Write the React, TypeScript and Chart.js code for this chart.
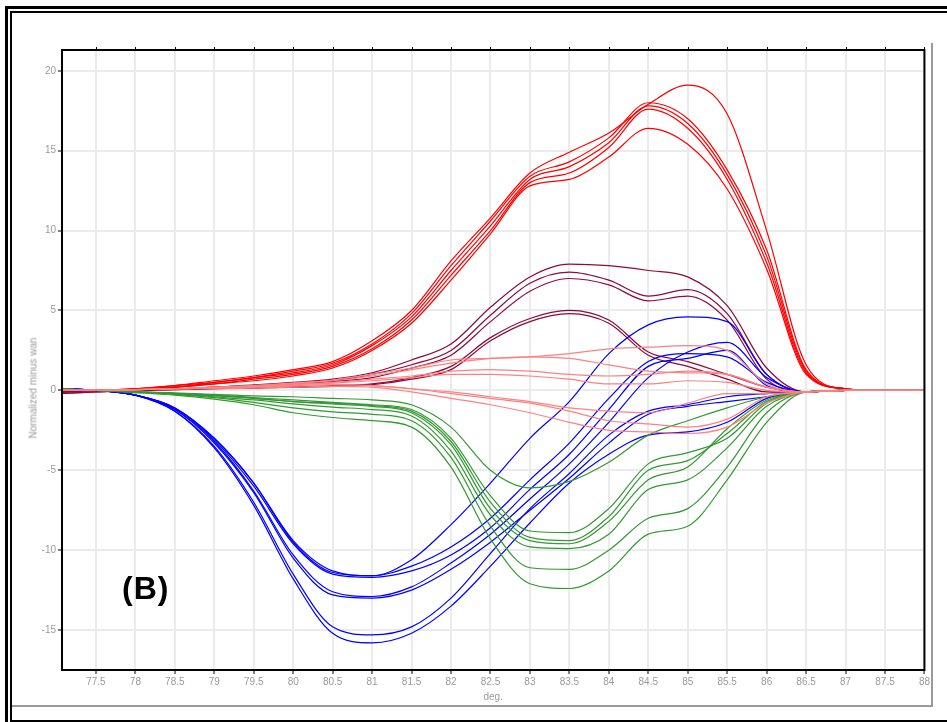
import React, { useEffect, useRef } from "react";
import { Chart, registerables } from "chart.js";

Chart.register(...registerables);

// temperature axis (deg.)
const temps = [77, 77.5, 78, 78.5, 79, 79.5, 80, 80.5, 81, 81.5, 82, 82.5, 83, 83.5, 84, 84.5, 85, 85.5, 86, 86.5, 87, 87.5, 88];

// bright red group
const red1 = [0, 0, 0.1, 0.3, 0.6, 0.9, 1.3, 1.8, 3.1, 5.0, 8.1, 10.8, 13.6, 14.9, 16.1, 17.9, 19.1, 17.3, 10.0, 1.6, 0.1, 0, 0];
const red2 = [0, 0, 0.1, 0.3, 0.5, 0.8, 1.2, 1.7, 2.9, 4.8, 7.8, 10.6, 13.4, 14.3, 15.8, 18.0, 17.0, 13.8, 8.8, 1.3, 0.1, 0, 0];
const red3 = [0, 0, 0.1, 0.2, 0.5, 0.8, 1.1, 1.6, 2.8, 4.6, 7.5, 10.3, 13.2, 14.0, 15.5, 17.8, 16.7, 13.5, 8.4, 1.2, 0.1, 0, 0];
const red4 = [0, 0, 0.1, 0.2, 0.4, 0.7, 1.0, 1.5, 2.6, 4.4, 7.2, 10.0, 13.0, 13.6, 15.2, 17.6, 16.4, 13.2, 8.0, 1.1, 0.1, 0, 0];
const red5 = [0, 0, 0.05, 0.2, 0.4, 0.6, 0.9, 1.4, 2.5, 4.2, 6.9, 9.8, 12.8, 13.2, 14.6, 16.4, 15.4, 12.6, 7.6, 1.0, 0.1, 0, 0];

// maroon group
const maroon1 = [-0.1, 0, 0.05, 0.1, 0.2, 0.35, 0.5, 0.7, 1.1, 1.9, 2.9, 5.2, 7.1, 7.9, 7.8, 7.5, 7.1, 5.3, 1.4, -0.1, 0, 0, 0];
const maroon2 = [-0.1, 0, 0.05, 0.1, 0.2, 0.3, 0.45, 0.6, 1.0, 1.6, 2.5, 4.7, 6.7, 7.4, 6.9, 5.9, 6.3, 4.8, 1.0, -0.1, 0, 0, 0];
const maroon3 = [-0.15, 0, 0.05, 0.1, 0.15, 0.25, 0.4, 0.55, 0.8, 1.4, 2.2, 4.3, 6.2, 7.0, 6.6, 5.6, 5.9, 4.4, 0.7, -0.1, 0, 0, 0];
const maroon4 = [-0.2, -0.1, 0, 0.05, 0.1, 0.15, 0.2, 0.3, 0.4, 0.8, 1.5, 3.3, 4.5, 5.0, 4.4, 2.4, 1.8, 1.0, 0.2, -0.1, 0, 0, 0];
const maroon5 = [-0.2, -0.1, 0, 0.05, 0.1, 0.15, 0.2, 0.25, 0.35, 0.7, 1.3, 3.1, 4.3, 4.8, 4.2, 2.2, 1.5, 0.7, -0.1, -0.1, 0, 0, 0];

// pink group
const pink1 = [0, 0, 0.05, 0.1, 0.2, 0.3, 0.45, 0.65, 1.0, 1.4, 1.9, 2.0, 2.1, 2.3, 2.6, 2.7, 2.8, 2.5, 0.4, -0.1, 0, 0, 0];
const pink2 = [0, 0, 0.05, 0.1, 0.2, 0.3, 0.45, 0.6, 0.9, 1.3, 1.7, 2.0, 2.1, 2.0, 1.6, 1.2, 1.1, 1.0, 0.2, -0.1, 0, 0, 0];
const pink3 = [0, 0, 0.05, 0.1, 0.15, 0.25, 0.35, 0.45, 0.6, 0.8, 1.0, 1.0, 0.9, 0.7, 0.4, 0.4, 0.6, 0.5, 0.0, -0.1, 0, 0, 0];
const pink4 = [0, 0, 0.05, 0.1, 0.15, 0.25, 0.4, 0.5, 0.7, 0.9, 1.2, 1.3, 1.2, 1.0, 0.9, 1.0, 1.2, 1.0, 0.2, -0.1, 0, 0, 0];
const pink5 = [0, 0, 0.05, 0.1, 0.15, 0.2, 0.3, 0.35, 0.3, 0.1, -0.2, -0.5, -0.8, -1.3, -1.9, -2.1, -2.3, -1.8, -0.4, -0.1, 0, 0, 0];
const pink6 = [0, 0, 0.05, 0.1, 0.1, 0.15, 0.2, 0.25, 0.2, -0.1, -0.5, -0.9, -1.4, -2.0, -2.5, -2.6, -2.7, -2.3, -0.8, -0.1, 0, 0, 0];
const pink7 = [0, 0, 0.05, 0.1, 0.15, 0.2, 0.3, 0.35, 0.3, 0.1, -0.1, -0.4, -0.7, -1.1, -1.3, -1.4, -0.8, -0.2, -0.2, -0.1, 0, 0, 0];

// blue group
const blue1 = [0.1, 0, -0.3, -1.1, -3.0, -5.8, -9.4, -11.3, -11.6, -10.6, -8.4, -5.8, -3.0, -0.7, 2.3, 4.1, 4.6, 4.3, 1.0, -0.1, 0, 0, 0];
const blue2 = [0.1, 0, -0.3, -1.1, -3.0, -5.8, -9.5, -11.4, -11.6, -11.0, -9.8, -8.0, -5.6, -3.3, -0.5, 1.8, 2.3, 2.1, 0.5, -0.1, 0, 0, 0];
const blue3 = [0.1, 0, -0.3, -1.1, -3.1, -6.0, -9.6, -11.5, -11.7, -11.3, -10.3, -8.6, -6.2, -4.0, -1.2, 1.5, 2.0, 2.5, 0.3, -0.1, 0, 0, 0];
const blue4 = [0.1, 0, -0.3, -1.2, -3.2, -6.3, -10.3, -12.6, -12.9, -12.3, -10.8, -9.0, -6.8, -4.6, -2.0, 0.8, 2.4, 3.0, 0.8, -0.1, 0, 0, 0];
const blue5 = [0.1, 0, -0.3, -1.2, -3.3, -6.4, -10.5, -12.8, -13.0, -12.5, -11.2, -9.5, -7.5, -5.5, -3.3, -1.5, -1.0, -0.7, -0.4, -0.1, 0, 0, 0];
const blue6 = [0.1, 0, -0.3, -1.3, -3.5, -7.0, -11.5, -14.8, -15.3, -14.8, -13.0, -10.2, -7.4, -5.2, -2.8, -1.3, -0.9, -0.4, -0.2, -0.1, 0, 0, 0];
const blue7 = [0.1, 0, -0.3, -1.3, -3.6, -7.2, -11.8, -15.2, -15.8, -15.2, -13.5, -11.0, -8.3, -5.8, -4.0, -2.8, -2.6, -2.0, -0.5, -0.1, 0, 0, 0];

// green group
const green1 = [0.1, 0, -0.1, -0.15, -0.25, -0.35, -0.4, -0.5, -0.6, -0.9, -2.3, -5.0, -6.1, -5.7, -4.5, -2.8, -1.9, -1.1, -0.4, -0.1, 0, 0, 0];
const green2 = [0.1, 0, -0.1, -0.2, -0.3, -0.45, -0.6, -0.75, -0.9, -1.2, -3.0, -6.6, -8.8, -8.9, -7.4, -4.6, -3.9, -3.0, -0.8, -0.1, 0, 0, 0];
const green3 = [0.1, 0, -0.1, -0.2, -0.35, -0.5, -0.7, -0.85, -1.0, -1.4, -3.4, -7.4, -9.4, -9.6, -8.2, -5.6, -4.8, -2.4, -0.6, -0.1, 0, 0, 0];
const green4 = [0.1, 0, -0.1, -0.2, -0.4, -0.6, -0.85, -1.05, -1.2, -1.6, -3.8, -7.8, -9.8, -9.9, -9.0, -6.2, -5.6, -3.6, -1.0, -0.1, 0, 0, 0];
const green5 = [0.1, 0, -0.1, -0.25, -0.45, -0.75, -1.1, -1.35, -1.5, -1.9, -4.2, -8.5, -11.1, -11.2, -10.0, -8.0, -7.4, -4.8, -1.4, -0.1, 0, 0, 0];
const green6 = [0.1, 0, -0.15, -0.3, -0.55, -0.9, -1.4, -1.7, -1.9, -2.3, -4.8, -9.3, -12.1, -12.4, -11.3, -9.0, -8.5, -5.6, -2.0, -0.1, 0, 0, 0];
const green7 = [0.1, 0, -0.1, -0.2, -0.3, -0.5, -0.7, -0.8, -0.95, -1.3, -3.2, -7.0, -9.2, -9.4, -7.9, -5.0, -4.4, -2.7, -0.7, -0.1, 0, 0, 0];

const xTickValues = [77.5, 78, 78.5, 79, 79.5, 80, 80.5, 81, 81.5, 82, 82.5, 83, 83.5, 84, 84.5, 85, 85.5, 86, 86.5, 87, 87.5, 88];
const yTickValues = [-15, -10, -5, 0, 5, 10, 15, 20];

const PINK = "#ff8080";
const GREEN = "#339933";
const BLUE = "#0000ff";
const MAROON = "#8c0a3c";
const RED = "#ff0000";

const groups: [number[][], string][] = [
  [[pink1, pink2, pink3, pink4, pink5, pink6, pink7], PINK],
  [[green1, green2, green3, green4, green5, green6, green7], GREEN],
  [[blue1, blue2, blue3, blue4, blue5, blue6, blue7], BLUE],
  [[maroon1, maroon2, maroon3, maroon4, maroon5], MAROON],
  [[red1, red2, red3, red4, red5], RED],
];

const framePlugin = {
  id: "frameBox",
  afterDraw(chart: any) {
    const { ctx, chartArea: a } = chart;
    ctx.save();
    ctx.strokeStyle = "#000";
    ctx.lineWidth = 2;
    ctx.strokeRect(a.left, a.top, a.right - a.left, a.bottom - a.top);
    const xs = chart.scales.x;
    ctx.lineWidth = 1;
    xs.ticks.forEach((t: any) => {
      const px = Math.round(xs.getPixelForValue(t.value)) + 0.5;
      ctx.beginPath();
      ctx.moveTo(px, a.top - 3);
      ctx.lineTo(px, a.top);
      ctx.stroke();
    });
    ctx.restore();
  },
};

const FONT = "Liberation Sans, Arial, sans-serif";

export default function App() {
  const ref = useRef<HTMLCanvasElement | null>(null);
  useEffect(() => {
    if (!ref.current) return;
    const datasets: any[] = [];
    groups.forEach(([list, color]) => {
      list.forEach((arr) => {
        datasets.push({
          data: temps.map((x, i) => ({ x, y: arr[i] })),
          borderColor: color,
          backgroundColor: color,
          borderWidth: 1.2,
          pointRadius: 0,
          fill: false,
          cubicInterpolationMode: "monotone",
        });
      });
    });
    const tickFont = { family: FONT, size: 10 };
    const chart = new Chart(ref.current, {
      type: "line",
      data: { datasets },
      plugins: [framePlugin],
      options: {
        animation: false,
        responsive: true,
        maintainAspectRatio: false,
        layout: { padding: { top: 36, right: 6, left: 0, bottom: 0 } },
        plugins: { legend: { display: false }, tooltip: { enabled: false } },
        scales: {
          x: {
            type: "linear",
            min: 77.07,
            max: 88,
            afterFit: (s: any) => { s.height = 34; },
            afterBuildTicks: (s: any) => { s.ticks = xTickValues.map((v) => ({ value: v })); },
            border: { display: false },
            grid: { color: "#ebebeb", lineWidth: 2, tickColor: "#000", tickLength: 4, tickWidth: 1 },
            ticks: { color: "#9a9a9a", font: tickFont, padding: 2, maxRotation: 0, autoSkip: false, callback: (v: any) => String(v) },
            title: { display: true, text: "deg.", color: "#9a9a9a", font: tickFont, padding: { top: 0, bottom: 1 } },
          },
          y: {
            type: "linear",
            min: -17.5,
            max: 21.3,
            afterFit: (s: any) => { s.width = 48; },
            afterBuildTicks: (s: any) => { s.ticks = yTickValues.map((v) => ({ value: v })); },
            border: { display: false },
            grid: { color: "#ebebeb", lineWidth: 2, tickColor: "#000", tickLength: 4, tickWidth: 1 },
            ticks: { color: "#9a9a9a", font: tickFont, padding: 2, callback: (v: any) => String(v) },
            title: { display: false },
          },
        },
      },
    } as any);
    return () => chart.destroy();
  }, []);

  return (
    <div style={{ position: "fixed", left: 0, top: 0, width: 947, height: 722, overflow: "hidden", background: "#fff" }}>
      <div style={{ position: "absolute", left: 5, top: 6, width: 1000, height: 1000, border: "3px solid #000", boxSizing: "border-box" }} />
      <div style={{ position: "absolute", left: 10, top: 11, width: 1000, height: 711, border: "2px solid #000", boxSizing: "border-box" }} />
      <div style={{ position: "absolute", left: 931, top: 43, width: 2, height: 664, background: "#9a9a9a" }} />
      <div style={{ position: "absolute", left: 12, top: 705, width: 921, height: 2, background: "#9a9a9a" }} />
      <div style={{ position: "absolute", left: 14, top: 14, width: 918, height: 690 }}>
        <canvas ref={ref} />
      </div>
      <div style={{ position: "absolute", left: 33, top: 388, transform: "translate(-50%, -50%) rotate(-90deg)", whiteSpace: "nowrap", fontFamily: FONT, fontSize: 10, color: "#9a9a9a" }}>Normalized minus wan</div>
      <div style={{ position: "absolute", left: 122, top: 572, fontFamily: FONT, fontWeight: "bold", fontSize: 32, lineHeight: "32px", letterSpacing: 1, color: "#000" }}>(B)</div>
    </div>
  );
}
